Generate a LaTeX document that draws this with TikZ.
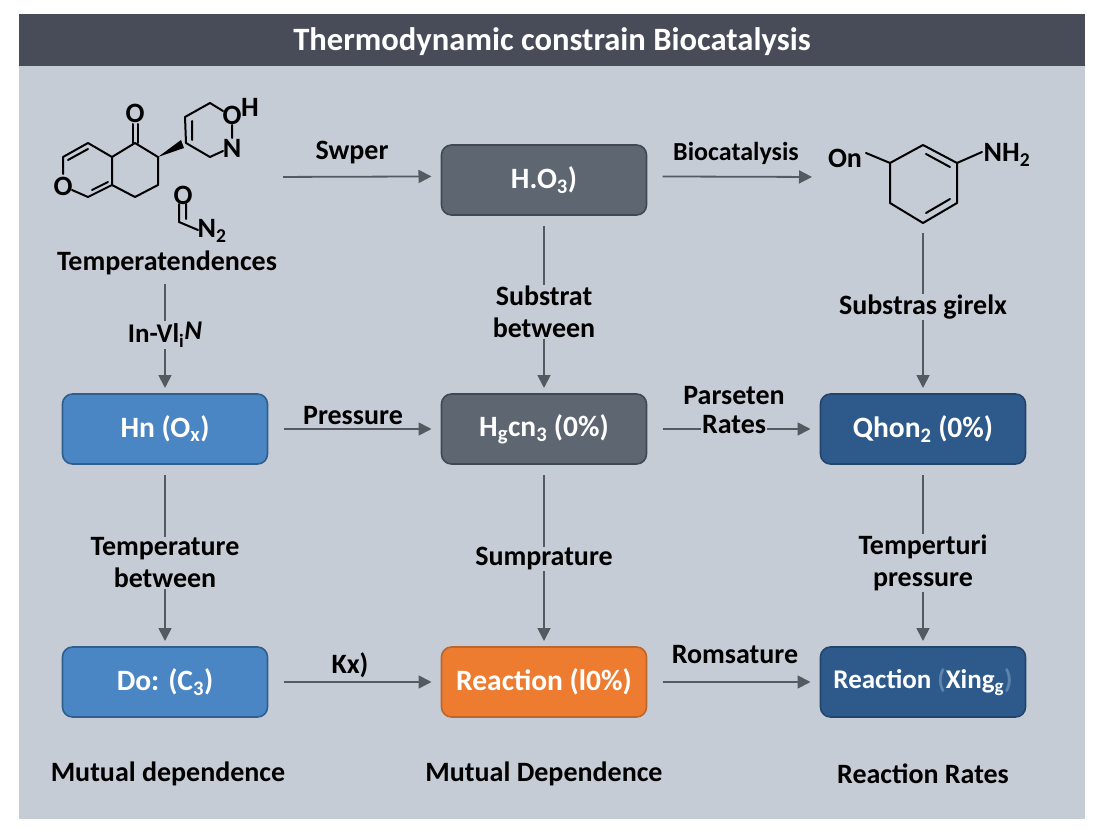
\documentclass[tikz,border=0pt]{standalone}
\usepackage{fontspec}
\setmainfont{Carlito}
\usetikzlibrary{arrows.meta,positioning}
\definecolor{panelbg}{HTML}{C6CCD5}
\definecolor{titlebg}{HTML}{474C58}
\definecolor{linegray}{HTML}{555A61}
\definecolor{graybox}{HTML}{5E6672}
\definecolor{grayedge}{HTML}{3F4954}
\definecolor{bluebox}{HTML}{4A86C4}
\definecolor{blueedge}{HTML}{2F5F8E}
\definecolor{navybox}{HTML}{2E5A8B}
\definecolor{navyedge}{HTML}{23456C}
\definecolor{orangebox}{HTML}{EE7C30}
\definecolor{orangeedge}{HTML}{B9662F}
\definecolor{fadetext}{HTML}{5F84AC}
\begin{document}
\begin{tikzpicture}[x=1pt,y=-1pt,node distance=174pt,every node/.style={font=\fontsize{28}{32}\selectfont\bfseries,inner sep=1pt,outer sep=0pt,align=center,text=black},
 box/.style={draw,line width=1.6pt,rounded corners=10pt,minimum width=205pt,minimum height=70pt,text=white,font=\fontsize{29.5}{34}\selectfont\bfseries},
 lbl/.style={fill=panelbg},
 arr/.style={-{Triangle[length=13pt,width=13pt]},line width=1.8pt,draw=linegray},
 harr/.style={arr,shorten <=16pt,shorten >=10pt},
 varr/.style={arr,shorten <=11pt,shorten >=6pt},
 bond/.style={line width=2pt,line cap=round,line join=round}]
\useasboundingbox (0,0) rectangle (1104,832);
\fill[panelbg] (19,14) rectangle (1085,819);
\fill[titlebg] (19,14) rectangle (1085,66);
\node[text=white,font=\fontsize{32.6}{38}\selectfont\bfseries] (title) at (552,42) {Thermodynamic constrain Biocatalysis};
\node[box,fill=bluebox,draw=blueedge] (hn) at (165,429) {Hn (O\textsubscript{x})};
\node[box,fill=graybox,draw=grayedge,right=of hn] (hgcn) {H\textsubscript{g}cn\textsubscript{3} (0\%)};
\node[box,fill=navybox,draw=navyedge,right=of hgcn] (qhon) {Qhon\textsubscript{2} (0\%)};
\node[box,fill=graybox,draw=grayedge,above=179pt of hgcn] (hoo) {H.O\textsubscript{3})};
\node[box,fill=bluebox,draw=blueedge,below=183pt of hn] (doc) {Do: (C\textsubscript{3})};
\node[box,fill=orangebox,draw=orangeedge,right=of doc] (react) {Reaction (l0\%)};
\node[box,fill=navybox,draw=navyedge,right=of react,font=\fontsize{27}{32}\selectfont\bfseries] (xing) {Reaction {\color{fadetext}(}Xing\textsubscript{g}{\color{fadetext})}};
\node (tempa) at (167,263) {Temperatendences};
\node (mutlow) at (168,774) {Mutual dependence};
\node (mutup) at (544,774) {Mutual Dependence};
\node (rates) at (923,774) {Reaction Rates};
\coordinate (molout) at (267,177);
\coordinate (bioend) at (822,177);
\coordinate (molin) at (923,222);
\coordinate (tempout) at (165,274);
\draw[harr] (molout) -- (hoo.178);
\draw[harr] (hoo.2) -- (bioend);
\draw[harr] (hn) -- (hgcn);
\draw[harr] (hgcn) -- (qhon);
\draw[harr] (doc) -- (react);
\draw[harr] (react) -- (xing);
\draw[varr] (molin) -- (qhon);
\draw[arr,shorten <=10pt,shorten >=6pt] (tempout) -- (hn);
\draw[varr] (hoo) -- (hgcn);
\draw[varr] (hn) -- (doc);
\draw[varr] (hgcn) -- (react);
\draw[varr] (qhon) -- (xing);
\node[lbl,font=\fontsize{27}{31}\selectfont\bfseries] (inv) at (165,335) {In-Vl\textsubscript{i}\raisebox{3pt}{\textit{N}}};
\node[lbl] (subst) at (544,312) {Substrat\\between};
\node[lbl] (subgir) at (923,307) {Substras girelx};
\node[lbl] (tempb) at (165,563) {Temperature\\between};
\node[lbl] (sump) at (544,559) {Sumprature};
\node[lbl] (tempc) at (923,563) {Temperturi\\pressure};
\node (swper) at (352,153) {Swper};
\node[font=\fontsize{26}{32}\selectfont\bfseries] (bioc) at (736,153) {Biocatalysis};
\node (press) at (353,416) {Pressure};
\node (kx) at (350,665) {Kx)};
\node (romsat) at (735,655) {Romsature};
\node[lbl] (ratesb) at (734,425) {Rates};
\node[above=9pt of ratesb] (parset) {Parseten};
\draw[bond] (63,174)--(63,157)--(88,143)--(112,157)--(112,185)--(88,197)--(72,190);
\draw[bond] (68,160)--(88,149) (92,190)--(108,182);
\draw[bond] (112,157)--(135,143)--(158,157)--(158,185)--(135,197)--(112,185);
\draw[bond] (133,143)--(133,124) (138,143)--(138,124);
\fill (158,157)--(181,140)--(184,148)--cycle;
\draw[bond] (186,143)--(185,117)--(210,103)--(223,111) (192,140)--(192,121);
\draw[bond] (186,143)--(210,157)--(223,151) (232,125)--(232,138);
\draw[bond] (179,204)--(179,222)--(198,230) (186,204)--(186,219);
\draw[bond] (866,153)--(890,163);
\draw[bond] (890,163)--(923,145)--(957,163)--(957,203)--(923,223)--(890,203)--cycle;
\draw[bond] (926,154)--(950,167) (950,199)--(926,213) (957,163)--(982,152);
\node (oxl) at (63,186) {O};
\node (oxk) at (135,113) {O};
\node (oxr) at (232,115) {O};
\node (hyd) at (250,107) {H};
\node (nit) at (232,148) {N};
\node (oxn) at (183,195) {O};
\node (ntwo) at (212,231) {N\textsubscript{2}};
\node (onr) at (845,158) {On};
\node (nhtwo) at (1007,155) {NH\textsubscript{2}};
\end{tikzpicture}
\end{document}
